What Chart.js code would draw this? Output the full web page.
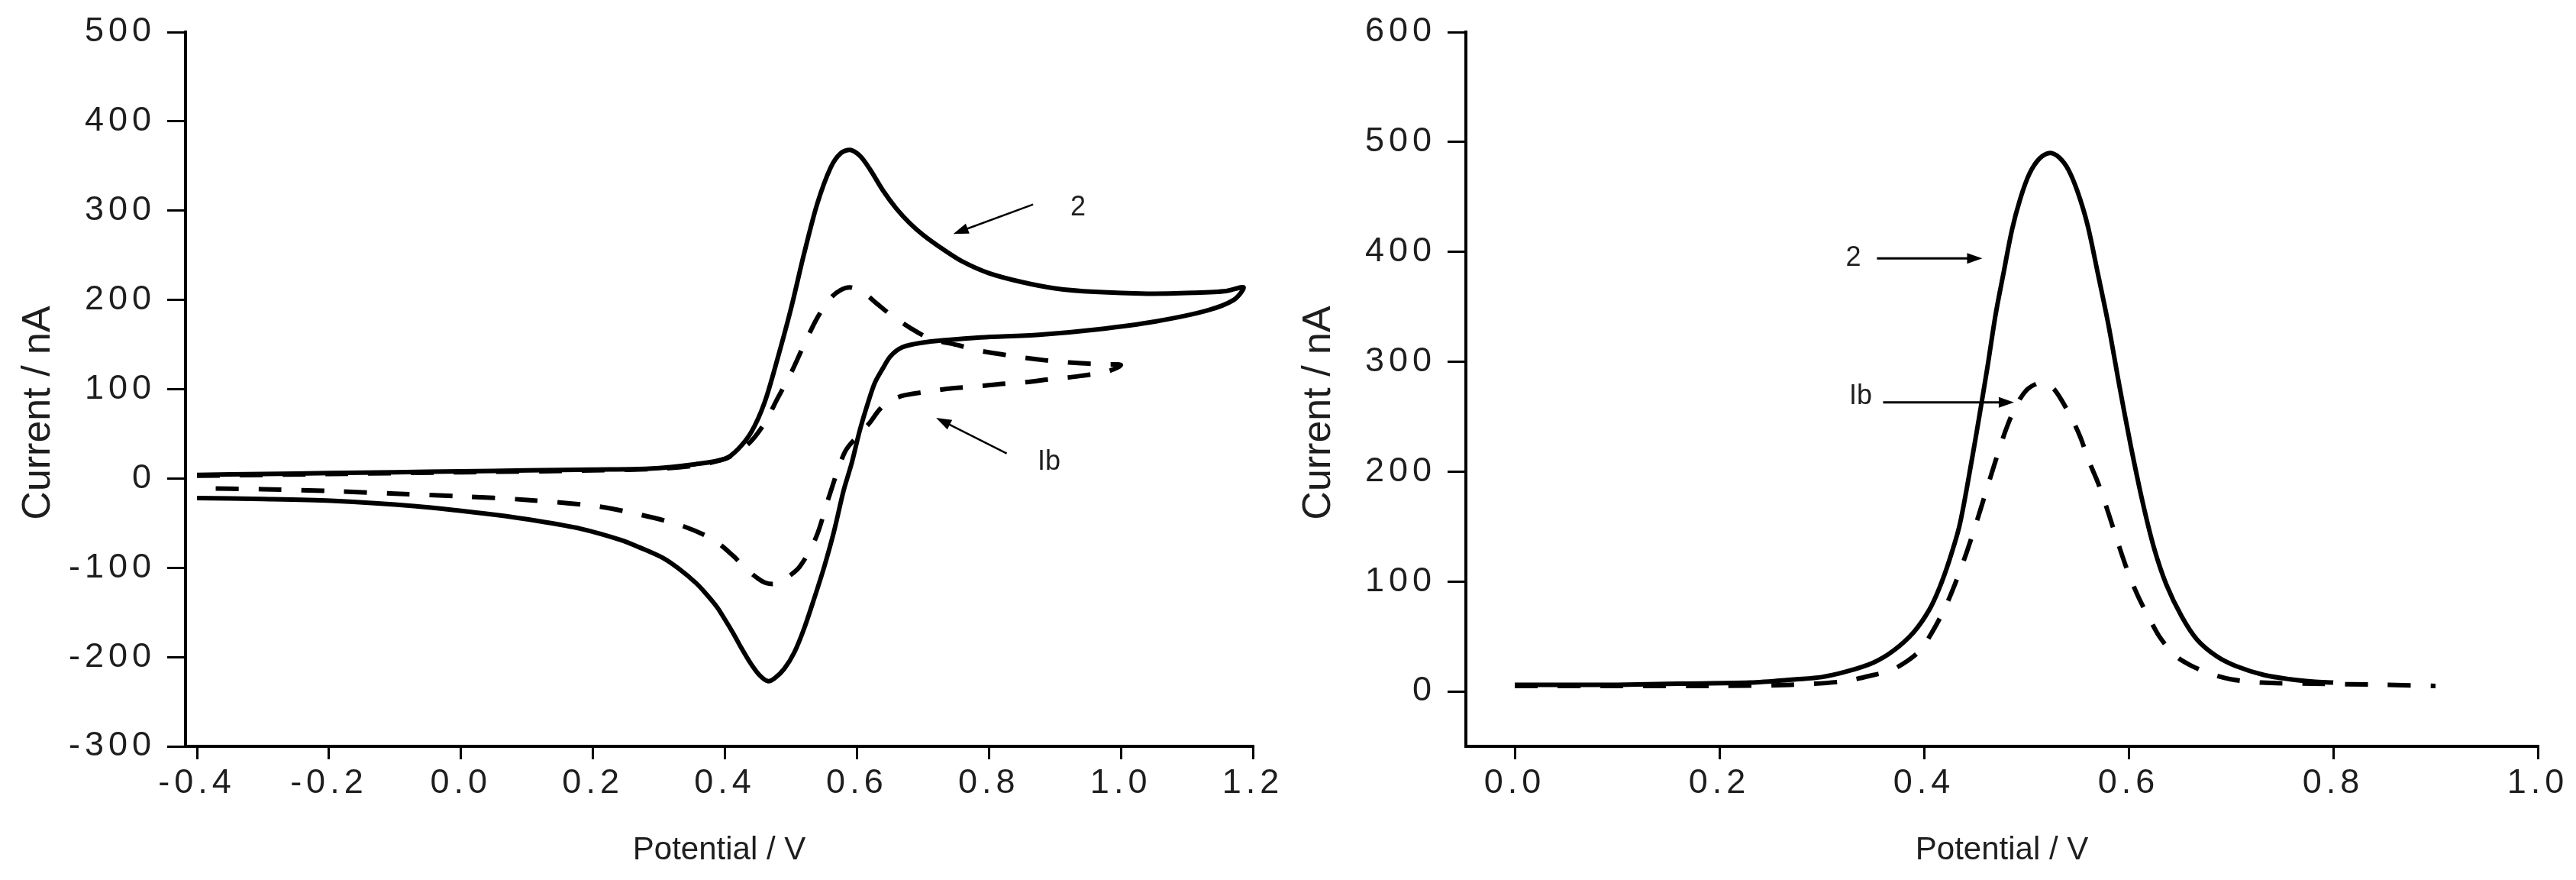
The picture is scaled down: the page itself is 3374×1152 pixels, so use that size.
<!DOCTYPE html>
<html>
<head>
<meta charset="utf-8">
<title>Cyclic and differential pulse voltammograms</title>
<script src="https://cdn.jsdelivr.net/npm/chart.js@4.4.1/dist/chart.umd.min.js"></script>
<style>
  html, body { margin: 0; padding: 0; background: #fff; }
  #wrap { position: relative; width: 3374px; height: 1152px; overflow: hidden; background: #fff; }
  canvas { position: absolute; top: 0; }
  #cvChart { left: 0; }
  #dpvChart { left: 1700px; }
</style>
</head>
<body>
<div id="wrap">
  <canvas id="cvChart" width="1720" height="1152"></canvas>
  <canvas id="dpvChart" width="1674" height="1152"></canvas>
</div>
<script>
// Left panel - cyclic voltammograms (forward sweep, then the return sweep)

var cv2Potential = [-0.40, -0.30, -0.20, -0.10, 0.00, 0.10, 0.20, 0.285, 0.355, 0.40, 0.42, 0.44,
  0.46, 0.48, 0.50, 0.52, 0.54, 0.56, 0.575, 0.59, 0.605, 0.62, 0.64, 0.66, 0.68, 0.70,
  0.73, 0.76, 0.80, 0.85, 0.90, 0.96, 1.04, 1.11, 1.16, 1.186,
  1.171, 1.130, 1.053, 0.964, 0.876, 0.787, 0.734, 0.698, 0.669, 0.651, 0.639, 0.627, 0.616, 0.604,
  0.592, 0.580, 0.565, 0.550, 0.535, 0.520, 0.505, 0.490, 0.475, 0.465, 0.452, 0.438, 0.425, 0.413,
  0.400, 0.388, 0.370, 0.356, 0.330, 0.306, 0.270, 0.243, 0.180, 0.120, 0.055, -0.071, -0.197, -0.30, -0.40];
var cv2Current = [4, 5, 6, 7, 8, 9, 10, 11, 16, 22, 33, 52,
  85, 135, 190, 252, 308, 348, 364, 368, 361, 346, 322, 302, 286, 273,
  257, 243, 230, 220, 213, 209, 207, 208, 210, 214,
  200, 188, 176, 167, 161, 158, 155, 152, 147, 137, 123, 107, 83, 53,
  17, -13, -60, -100, -135, -168, -195, -213, -224, -227, -220, -206, -190, -174,
  -158, -144, -128, -117, -101, -89, -77, -69, -56, -48, -41, -31, -25, -23, -22];

var cvIbPotential = [-0.40, -0.20, 0.00, 0.20, 0.30, 0.36, 0.40, 0.42, 0.44, 0.46, 0.48, 0.50,
  0.52, 0.54, 0.56, 0.575, 0.59, 0.61, 0.63, 0.65, 0.68, 0.71,
  0.755, 0.787, 0.829, 0.867, 0.903, 0.940, 0.975, 1.000,
  0.980, 0.930, 0.890, 0.857, 0.820, 0.780, 0.745, 0.704, 0.671, 0.650, 0.634, 0.619, 0.604, 0.582,
  0.557, 0.538, 0.513, 0.488, 0.475, 0.462, 0.450, 0.430, 0.413, 0.381, 0.331, 0.268, 0.205, 0.100,
  0.000, -0.100, -0.200, -0.300, -0.400];
var cvIbCurrent = [3, 5, 7, 9, 11, 15, 22, 30, 42, 62, 90, 118,
  150, 180, 202, 211, 214, 208, 196, 184, 169, 157,
  149, 143, 138, 134, 131, 129, 128, 127,
  120, 114, 111, 108, 106, 103, 101, 97, 93, 87, 77, 62, 50, 30,
  -22, -66, -99, -114, -118, -117, -112, -100, -87, -68, -52, -40, -31, -24,
  -20, -17, -14, -12, -11];

var cvPotentialTicks = [-0.4, -0.2, 0.0, 0.2, 0.4, 0.6, 0.8, 1.0, 1.2];
var cvCurrentTicks = [-300, -200, -100, 0, 100, 200, 300, 400, 500];

// Right panel - differential pulse voltammograms

var dpv2Potential = [0.00, 0.05, 0.10, 0.16, 0.23, 0.275, 0.30, 0.324, 0.35, 0.37, 0.39, 0.405,
  0.415, 0.425, 0.435, 0.447, 0.454, 0.462, 0.47, 0.478, 0.486, 0.494, 0.503, 0.513, 0.523, 0.532,
  0.541, 0.55, 0.56, 0.57, 0.58, 0.591, 0.602, 0.614, 0.625, 0.637, 0.652, 0.667, 0.686, 0.705,
  0.732, 0.758, 0.780, 0.800];
var dpv2Current = [6, 6, 6, 7, 8, 11, 13, 18, 26, 37, 54, 74,
  94, 120, 152, 212, 250, 295, 343, 382, 420, 448, 471, 485, 490, 486,
  475, 455, 424, 380, 335, 278, 224, 171, 130, 97, 68, 47, 32, 23,
  15, 11, 9, 8];

var dpvIbPotential = [0.00, 0.10, 0.20, 0.27, 0.32, 0.351, 0.370, 0.395, 0.408, 0.42, 0.43, 0.44,
  0.45, 0.46, 0.47, 0.48, 0.49, 0.50, 0.51, 0.517, 0.528, 0.544, 0.553, 0.561,
  0.57, 0.58, 0.59, 0.60, 0.61, 0.62, 0.63, 0.645, 0.66, 0.68, 0.70, 0.73, 0.78, 0.85, 0.90];
var dpvIbCurrent = [5, 5, 5, 6, 9, 15, 20, 36, 54, 75, 97, 122,
  150, 180, 210, 238, 260, 274, 280, 281, 274, 249, 231, 210,
  190, 163, 134, 107, 85, 67, 50, 33, 24, 16, 11, 8, 7, 6, 5];

var dpvPotentialTicks = [0.0, 0.2, 0.4, 0.6, 0.8, 1.0];
var dpvCurrentTicks = [0, 100, 200, 300, 400, 500, 600];

// curve labels and their arrows, placed in data units
var cvLabels = [{ text: '2', x: 0.935, y: 303 }, { text: 'Ib', x: 0.891, y: 18 }];
var cvArrows = [[0.867, 307, 0.746, 274], [0.827, 28, 0.720, 68]];
var dpvLabels = [{ text: '2', x: 0.331, y: 394 }, { text: 'Ib', x: 0.338, y: 268 }];
var dpvArrows = [[0.354, 394, 0.457, 394], [0.360, 263, 0.488, 263]];

var xTitle = 'Potential / V';
var yTitle = 'Current / nA';

var fontFam = '"Liberation Sans", Arial, Helvetica, sans-serif';
Chart.defaults.font.family = fontFam;
Chart.defaults.color = '#1e1e1e';

function toPoints(xs, ys) {
  return xs.map(function (x, i) { return { x: x, y: ys[i] }; });
}

function drawArrow(ctx, x1, y1, x2, y2, width) {
  var ang = Math.atan2(y2 - y1, x2 - x1);
  var len = 20, half = 7;
  ctx.lineWidth = width;
  ctx.beginPath();
  ctx.moveTo(x1, y1);
  ctx.lineTo(x2 - Math.cos(ang) * len * 0.6, y2 - Math.sin(ang) * len * 0.6);
  ctx.stroke();
  ctx.beginPath();
  ctx.moveTo(x2, y2);
  ctx.lineTo(x2 - Math.cos(ang) * len - Math.sin(ang) * half, y2 - Math.sin(ang) * len + Math.cos(ang) * half);
  ctx.lineTo(x2 - Math.cos(ang) * len + Math.sin(ang) * half, y2 - Math.sin(ang) * len - Math.cos(ang) * half);
  ctx.closePath();
  ctx.fill();
}

// axis titles, curve labels and arrows
var textPlugin = {
  id: 'extraText',
  beforeDraw: function (chart) {
    chart.ctx.letterSpacing = '6px';
  },
  afterDraw: function (chart, args, opts) {
    var ctx = chart.ctx, area = chart.chartArea;
    var sx = chart.scales.x, sy = chart.scales.y;
    ctx.save();
    ctx.letterSpacing = '0px';
    ctx.fillStyle = '#1e1e1e';
    ctx.strokeStyle = '#000';
    ctx.textAlign = 'center';
    ctx.textBaseline = 'middle';

    ctx.font = '42px ' + fontFam;
    ctx.fillText(xTitle, (area.left + area.right) / 2, area.bottom + 136);

    ctx.save();
    ctx.translate(area.left - 192, (area.top + area.bottom) / 2 + 31);
    ctx.rotate(-Math.PI / 2);
    ctx.font = '52px ' + fontFam;
    ctx.fillText(yTitle, 0, 0);
    ctx.restore();

    ctx.font = '36px ' + fontFam;
    opts.labels.forEach(function (l) {
      ctx.fillText(l.text, sx.getPixelForValue(l.x), sy.getPixelForValue(l.y));
    });
    ctx.fillStyle = '#000';
    opts.arrows.forEach(function (a) {
      drawArrow(ctx, sx.getPixelForValue(a[0]), sy.getPixelForValue(a[1]),
        sx.getPixelForValue(a[2]), sy.getPixelForValue(a[3]), opts.arrowWidth);
    });
    ctx.restore();
  }
};

function makeScales(xMin, xMax, xTicks, yMin, yMax, yTicks, yWidth) {
  return {
    x: {
      type: 'linear',
      min: xMin,
      max: xMax,
      afterBuildTicks: function (s) { s.ticks = xTicks.map(function (v) { return { value: v }; }); },
      afterFit: function (s) { s.height = 175; },
      grid: { drawOnChartArea: false, drawTicks: true, tickLength: 17, color: '#000', lineWidth: 3 },
      border: { display: true, color: '#000', width: 4 },
      ticks: {
        autoSkip: false, maxRotation: 0, padding: 5,
        font: { size: 45 },
        callback: function (v) { return v.toFixed(1); }
      }
    },
    y: {
      type: 'linear',
      min: yMin,
      max: yMax,
      afterBuildTicks: function (s) { s.ticks = yTicks.map(function (v) { return { value: v }; }); },
      afterFit: function (s) { s.width = yWidth; },
      grid: { drawOnChartArea: false, drawTicks: true, tickLength: 24, color: '#000', lineWidth: 3 },
      border: { display: true, color: '#000', width: 4 },
      ticks: {
        autoSkip: false, padding: 15,
        font: { size: 45 },
        callback: function (v) { return String(v); }
      }
    }
  };
}

function lineSet(label, pts, dashed) {
  return {
    label: label,
    data: pts,
    showLine: true,
    borderColor: '#000',
    borderWidth: 6,
    borderDash: dashed ? [30, 26] : [],
    pointRadius: 0,
    tension: 0.3,
    fill: false
  };
}

var cvChart = new Chart(document.getElementById('cvChart'), {
  type: 'scatter',
  data: {
    datasets: [
      lineSet('2', toPoints(cv2Potential, cv2Current), false),
      lineSet('Ib', toPoints(cvIbPotential, cvIbCurrent), true)
    ]
  },
  options: {
    responsive: false,
    animation: false,
    layout: { padding: { left: 0, right: 79, top: 42, bottom: 0 } },
    scales: makeScales(-0.4174, 1.2, cvPotentialTicks, -300, 500, cvCurrentTicks, 243),
    plugins: {
      legend: { display: false },
      tooltip: { enabled: false },
      extraText: { labels: cvLabels, arrows: cvArrows, arrowWidth: 2.5 }
    }
  },
  plugins: [textPlugin]
});

var dpvChart = new Chart(document.getElementById('dpvChart'), {
  type: 'scatter',
  data: {
    datasets: [
      lineSet('2', toPoints(dpv2Potential, dpv2Current), false),
      lineSet('Ib', toPoints(dpvIbPotential, dpvIbCurrent), true)
    ]
  },
  options: {
    responsive: false,
    animation: false,
    layout: { padding: { left: 0, right: 50, top: 42, bottom: 0 } },
    scales: makeScales(-0.0478, 1.0, dpvPotentialTicks, -50, 600, dpvCurrentTicks, 220),
    plugins: {
      legend: { display: false },
      tooltip: { enabled: false },
      extraText: { labels: dpvLabels, arrows: dpvArrows, arrowWidth: 3 }
    }
  },
  plugins: [textPlugin]
});
</script>
</body>
</html>
